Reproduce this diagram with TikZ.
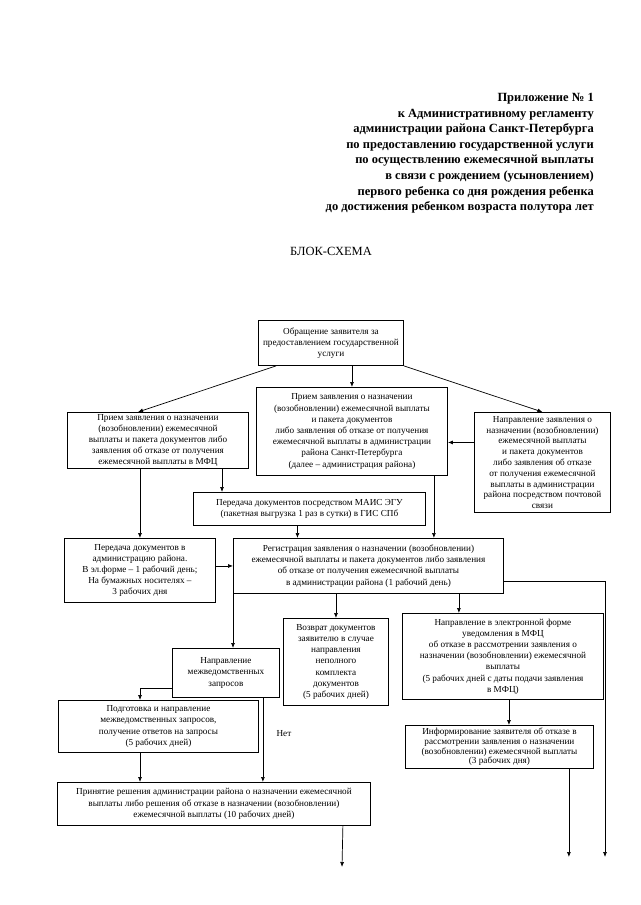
\documentclass[tikz,border=0pt]{standalone}
\usepackage{fontspec}
\setmainfont{Liberation Serif}
\usepackage{tikz}
\usetikzlibrary{positioning,arrows.meta,calc}

\begin{document}
\begin{tikzpicture}[
    x=1pt, y=-1pt,
    every node/.style={font=\fontsize{9.2}{11.2}\selectfont},
    box/.style={draw, line width=0.9pt, rectangle, anchor=north west, align=center, inner sep=1pt},
    arr/.style={draw, line width=0.7pt, -{Latex[length=5pt,width=4pt]}},
    line/.style={draw, line width=0.7pt}
  ]

\fill[white] (0,0) rectangle (640,905);
\useasboundingbox (0,0) rectangle (640,905);

% heading
\node[anchor=north east, align=right, inner sep=0pt, font=\fontsize{12.5}{15.6}\selectfont\bfseries] (title) at (594,93)
  {Приложение № 1\\ к Административному регламенту\\ администрации района Санкт-Петербурга\\
   по предоставлению государственной услуги\\ по осуществлению ежемесячной выплаты\\
   в связи с рождением (усыновлением)\\ первого ребенка со дня рождения ребенка\\
   до достижения ребенком возраста полутора лет};
\node[font=\fontsize{12.5}{14}\selectfont] (head) at (331,251) {БЛОК-СХЕМА};

% boxes
\node[box, minimum width=145pt, minimum height=45pt] (obr) at (258,320)
  {Обращение заявителя за\\ предоставлением государственной\\ услуги};
\node[box, minimum width=181pt, minimum height=56pt] (mfc) at (67,412)
  {Прием заявления о назначении\\ (возобновлении) ежемесячной\\ выплаты и пакета документов либо\\
   заявления об отказе от получения\\ ежемесячной выплаты в МФЦ};
\node[box, minimum width=191pt, minimum height=88pt] (adm) at (256,387)
  {Прием заявления о назначении\\ (возобновлении) ежемесячной выплаты\\ и пакета документов\\
   либо заявления об отказе от получения\\ ежемесячной выплаты в администрации\\
   района Санкт-Петербурга\\ (далее – администрация района)};
\node[box, minimum width=136pt, minimum height=100pt, font=\fontsize{9.2}{10.8}\selectfont] (post) at (474,412)
  {Направление заявления о\\ назначении (возобновлении)\\ ежемесячной выплаты\\ и пакета документов\\
   либо заявления об отказе\\ от получения ежемесячной\\ выплаты в администрации\\
   района посредством почтовой\\ связи};
\node[box, minimum width=232pt, minimum height=33pt] (mais) at (193,492)
  {Передача документов посредством МАИС ЭГУ\\ (пакетная выгрузка 1 раз в сутки) в ГИС СПб};
\node[box, minimum width=151pt, minimum height=64pt] (pered) at (64,538)
  {Передача документов в\\ администрацию района.\\ В эл.форме – 1 рабочий день;\\
   На бумажных носителях –\\ 3 рабочих дня};
\node[box, minimum width=270pt, minimum height=55pt] (reg) at (233,538)
  {Регистрация заявления о назначении (возобновлении)\\ ежемесячной выплаты и пакета документов либо заявления\\
   об отказе от получения ежемесячной выплаты\\ в администрации района (1 рабочий день)};
\node[box, minimum width=105pt, minimum height=87pt] (vozv) at (283,618)
  {Возврат документов\\ заявителю в случае\\ направления\\ неполного\\ комплекта\\ документов\\ (5 рабочих дней)};
\node[box, minimum width=201pt, minimum height=86pt] (eform) at (402,613)
  {Направление в электронной форме\\ уведомления в МФЦ\\ об отказе в рассмотрении заявления о\\
   назначении (возобновлении) ежемесячной\\ выплаты\\ (5 рабочих дней с даты подачи заявления\\ в МФЦ)};
\node[box, minimum width=107pt, minimum height=49pt] (mezh) at (172,648)
  {Направление\\ межведомственных\\ запросов};
\node[box, minimum width=188pt, minimum height=43pt, font=\fontsize{9.2}{9.8}\selectfont] (inform) at (405,725)
  {Информирование заявителя об отказе в\\ рассмотрении заявления о назначении\\
   (возобновлении) ежемесячной выплаты\\ (3 рабочих дня)};
\node[box, minimum width=200pt, minimum height=52pt] (podg) at (58,700)
  {Подготовка и направление\\ межведомственных запросов,\\ получение ответов на запросы\\ (5 рабочих дней)};
\node[box, minimum width=313pt, minimum height=43pt] (prin) at (57,782)
  {Принятие решения администрации района о назначении ежемесячной\\
   выплаты либо решения об отказе в назначении (возобновлении)\\ ежемесячной выплаты (10 рабочих дней)};

% helper points
\coordinate (m1) at ([xshift=155pt]mfc.south west);
\coordinate (m2) at ([xshift=-12pt]mais.south);
\coordinate (m3) at ([xshift=-14pt]adm.south east);
\coordinate (m4) at ([xshift=-45pt]reg.south east);
\coordinate (m5) at ([xshift=6pt]eform.south);
\coordinate (m6) at ([xshift=-25pt]inform.south east);
\coordinate (m7) at ([xshift=-17pt]mezh.south east);
\coordinate (m8) at ([xshift=82pt]podg.south west);
\coordinate (m9) at ([xshift=-28pt]prin.south east);
\coordinate (m10) at ([yshift=-15pt]mezh.west);
\coordinate (k1) at ([xshift=82pt]podg.north west);
\coordinate (end1) at (342,867);
\coordinate (end2) at (568,857);
\coordinate (end3) at (605,857);

% connectors
\draw[arr] ([xshift=18pt]obr.south west) -- ([xshift=71pt]mfc.north west);
\draw[arr] (adm.north |- obr.south) -- (adm.north);
\draw[arr] (obr.south east) -- (post.north);
\draw[arr] ([yshift=20pt]post.west) -- ([yshift=20pt]post.west -| adm.east);
\draw[arr] (m1) -- (m1 |- mais.north);
\draw[arr] (pered.north |- mfc.south) -- (pered.north);
\draw[arr] (m2) -- (m2 |- reg.north);
\draw[arr] (m3) -- (m3 |- reg.north);
\draw[arr] (pered.east |- reg.west) -- (reg.west);
\draw[arr] (reg.south west) -- (reg.south west |- mezh.north);
\draw[arr] (vozv.north |- reg.south) -- (vozv.north);
\draw[arr] (m4) -- (m4 |- eform.north);
\draw[arr] ([yshift=-15pt]reg.east) -| (end3);
\draw[arr] (m5) -- (m5 |- inform.north);
\draw[arr] (m6) -- (m6 |- end2);
\draw[arr] (m10) -| (k1);
\draw[arr] (m7) -- node[pos=0.42, right=10pt] {Нет} (m7 |- prin.north);
\draw[arr] (m8) -- (m8 |- prin.north);
\draw[arr] (m9) -- (end1);

\end{tikzpicture}
\end{document}
